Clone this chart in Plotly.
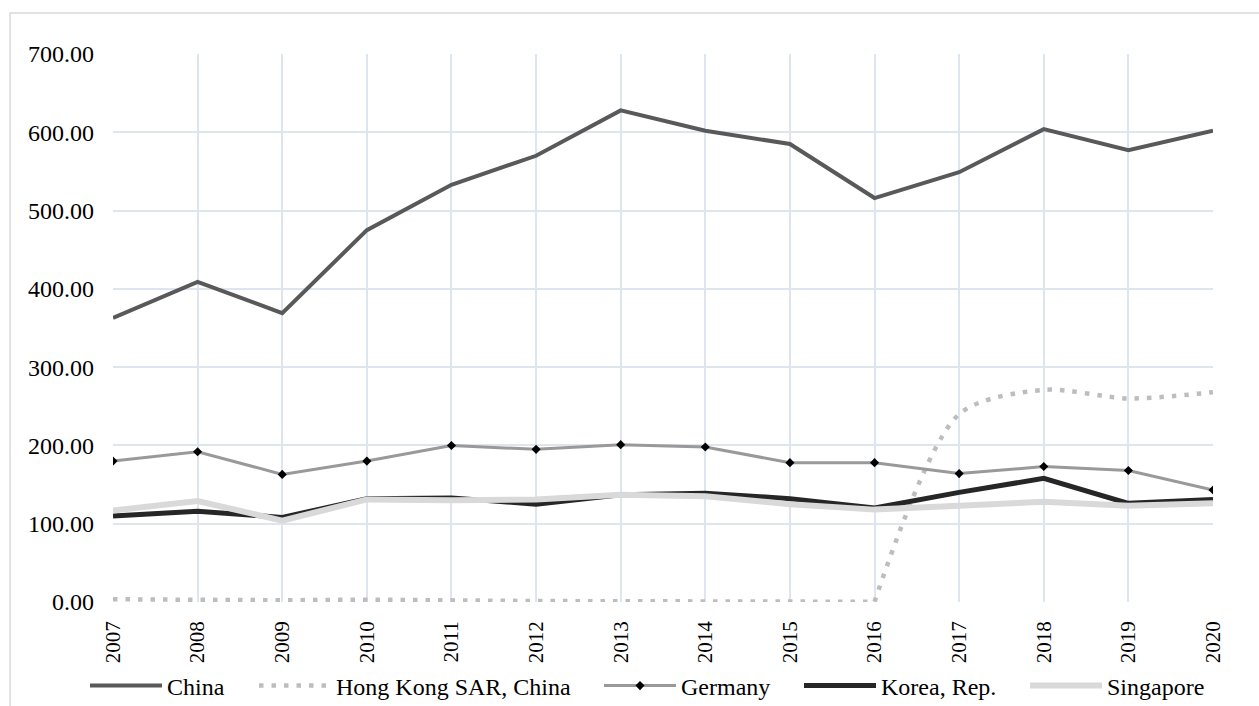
import plotly.graph_objects as go

years = [str(y) for y in range(2007, 2021)]
china = [363, 409, 369, 475, 533, 570, 628, 602, 585, 516, 549, 604, 577, 602]
hong_kong = [3.5, 2.5, 2.2, 3.0, 1.5, 1.2, 1.0, 0.8, 0.5, 0.3, 240, 271, 260, 268]
germany = [180, 192, 163, 180, 200, 195, 201, 198, 178, 178, 164, 173, 168, 143]
korea = [110, 116, 108, 132, 133, 125, 137, 139, 132, 120, 140, 158, 126, 131]
singapore = [117, 129, 104, 131, 130, 131, 137, 135, 125, 118, 123, 128, 123, 126]
yticks = [0, 100, 200, 300, 400, 500, 600, 700]

FONT = '"Liberation Serif", "Times New Roman", serif'
W, H = 1259, 706

# legend text start positions (px) for each series
legend_text_x = [168, 337, 682, 882, 1108]
ITEMW = 72

HK_LINE = dict(color="#bdbdbd", width=4.5, dash="4.5px,8px")
JUMP = 9  # index of the last flat year before the jump (2016)

fig = go.Figure()
fig.add_trace(go.Scatter(x=years, y=china, name="China", mode="lines",
                         line=dict(color="#595959", width=4), legend="legend"))
fig.add_trace(go.Scatter(x=years[:JUMP + 1], y=hong_kong[:JUMP + 1], name="Hong Kong SAR, China",
                         mode="lines", line=dict(**HK_LINE), legend="legend2"))
fig.add_trace(go.Scatter(x=years[JUMP:], y=hong_kong[JUMP:], name="Hong Kong SAR, China",
                         mode="lines", line=dict(**HK_LINE, shape="spline", smoothing=0.8),
                         showlegend=False, legend="legend2"))
fig.add_trace(go.Scatter(x=years, y=germany, name="Germany", mode="lines+markers",
                         line=dict(color="#999999", width=3),
                         marker=dict(symbol="diamond", color="#000000", size=7),
                         legend="legend3"))
fig.add_trace(go.Scatter(x=years, y=korea, name="Korea, Rep.", mode="lines",
                         line=dict(color="#262626", width=5), legend="legend4"))
fig.add_trace(go.Scatter(x=years, y=singapore, name="Singapore", mode="lines",
                         line=dict(color="#d9d9d9", width=6), legend="legend5"))

def leg(tx):
    return dict(orientation="h", xref="container", yref="container",
                x=(tx - ITEMW - 11) / W, xanchor="left", y=(H - 686) / H, yanchor="middle",
                font=dict(family=FONT, size=24, color="#000000"), itemwidth=ITEMW,
                bgcolor="rgba(0,0,0,0)", borderwidth=0)

fig.update_layout(
    width=W, height=H,
    margin=dict(l=113, r=46, t=54, b=104),
    paper_bgcolor="white", plot_bgcolor="white",
    font=dict(family=FONT, size=24, color="#000000"),
    showlegend=True,
    legend=leg(legend_text_x[0]),
    legend2=leg(legend_text_x[1]),
    legend3=leg(legend_text_x[2]),
    legend4=leg(legend_text_x[3]),
    legend5=leg(legend_text_x[4]),
    xaxis=dict(type="category", range=[0, 13], tickangle=-90, showgrid=True,
               gridcolor="#dfe5ee", gridwidth=1.5, zeroline=False, showline=False,
               ticks="", tickfont=dict(family=FONT, size=21), ticklabelstandoff=14,
               automargin=False),
    yaxis=dict(range=[0, 700], tickvals=yticks, tickformat=".2f", showgrid=True,
               gridcolor="#dfe5ee", gridwidth=1.5, zeroline=False, showline=False,
               ticks="", tickfont=dict(family=FONT, size=24), ticklabelstandoff=18,
               automargin=False),
    shapes=[dict(type="rect", xref="paper", yref="paper", x0=-0.0936, x1=1.06,
                 y0=-0.25, y1=1.0748, line=dict(color="#d9d9d9", width=1.5),
                 fillcolor="rgba(0,0,0,0)", layer="below")],
)

fig.write_html("out.html")
